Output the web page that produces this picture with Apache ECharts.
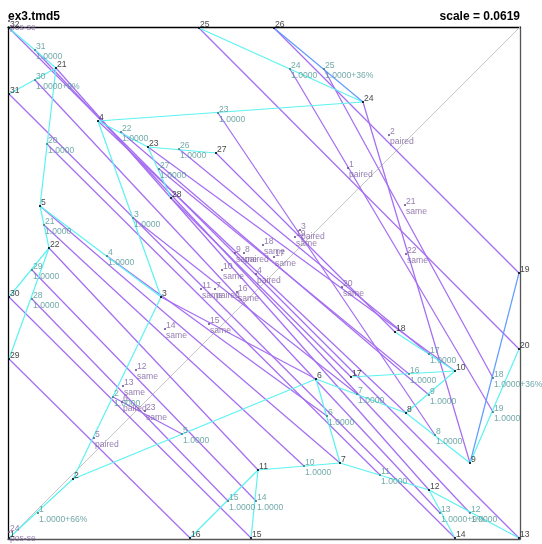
<!DOCTYPE html>
<html><head><meta charset="utf-8">
<script src="https://cdn.jsdelivr.net/npm/echarts@6/dist/echarts.min.js"></script>
<style>html,body{margin:0;padding:0;background:#fff}#c{width:542px;height:544px}</style>
</head><body><div id="c"></div>
<script>
// plot units: square 0..512 on both axes
const AX_MIN = 0, AX_MAX = 512;

// tree nodes 1..32 (black)
const nodeX = [1,65,153,90,32,308,332,398,462,447,250,421,511,447,243,182,343,387,511,511,48,41,140,355,191,266,208,163,1,1,1,1];
const nodeY = [1,60,242,418,333,160,76,126,76,168,69,49,1,1,1,1,162,207,266,190,471,291,392,437,511,511,386,341,180,242,445,511];

// tree edges 1..31 (teal labels), endpoints as node numbers
const edgeFrom = [2,3,3,5,2,6,6,8,8,7,7,12,12,11,11,10,10,9,9,21,5,4,4,24,24,23,23,22,22,21,21];
const edgeTo   = [1,2,4,3,6,7,8,9,10,11,12,13,14,15,16,17,18,19,20,5,22,23,24,25,26,27,28,29,30,31,32];
const edgeX = [30,105,125,99,174,319,349,427,421,296,372,462,432,248,220,401,421,485,485,39,36,113,210,282,316,171,151,24,24,27,27];
const edgeY = [26,142,321,283,105,123,145,104,144,73,64,26,26,38,38,165,185,161,127,395,314,407,426,470,470,390,370,240,269,459,489];
const edgeSupport = ['1.0000+66%','1.0000','1.0000','1.0000','1.0000','1.0000','1.0000','1.0000','1.0000','1.0000',
  '1.0000','1.0000','1.0000+9%','1.0000','1.0000','1.0000','1.0000','1.0000+36%','1.0000','1.0000',
  '1.0000','1.0000','1.0000','1.0000','1.0000+36%','1.0000','1.0000','1.0000','1.0000','1.0000+9%','1.0000'];

// mirror-matched pairs (purple links)
const nodePairs = [[32,13],[31,14],[30,15],[29,16],[28,17],[27,18],[26,19],[25,20],[21,12],[22,11],[5,7],[24,9],[23,10],[4,8],[3,6]];
const edgePairs = [[31,12],[30,13],[20,11],[29,14],[28,15],[21,10],[4,6],[3,7],[23,8],[24,19],[25,18],[22,9],[26,17],[27,16],[2,5]];

// purple match labels
const tmNum = ['1','2','3','4','5','6','7','8','9','10','11','12','13','14','15','16','17','18','19','20','21','22','23','24',''];
const tmX = [340,381,292,248,86,114,207,236,227,214,193,128,115,157,201,229,266,255,287,334,397,398,137,1,1];
const tmY = [371,404,309,265,101,137,250,286,286,269,250,169,153,210,215,247,282,294,302,252,334,285,128,7,518];
const tmTag = ['paired','paired','paired','paired','paired','paired','paired','paired','same','same','same','same','same','same','same','same','same','same','same','same','same','same','same','pos-se','pos-se'];

const FONT = 'Liberation Sans, Arial, sans-serif';
const PURPLE = '#a56ef2', CYAN = '#5cf2f2', BLUE = '#5f9cff';
const nodePt = n => [nodeX[n-1], nodeY[n-1]];
const edgePt = e => [edgeX[e-1], edgeY[e-1]];

const segSeries = (pts, color, z, w) => ({
  type:'line', silent:true, symbol:'none', showSymbol:false, animation:false,
  data:pts, z:z, color:color,
  lineStyle:{color:color, width:w, opacity:1}, itemStyle:{color:color},
  emphasis:{disabled:true}
});

const purpleSeries = nodePairs.map(p => [nodePt(p[0]), nodePt(p[1])])
  .concat(edgePairs.map(p => [edgePt(p[0]), edgePt(p[1])]))
  .map(c => segSeries(c, PURPLE, 2, 1.25));
const treeSeries = edgeFrom.map((f,i) =>
  segSeries([nodePt(f), nodePt(edgeTo[i])], edgeSupport[i].indexOf('36%')>=0 ? BLUE : CYAN, 3, 1.2));

const lbl = (color) => ({show:true, position:[2,-7], align:'left', verticalAlign:'top',
  fontSize:8.6, lineHeight:10, fontFamily:FONT, color:color});

const chart = echarts.init(document.getElementById('c'), null, {renderer:'canvas'});
const axisBase = {type:'value', min:AX_MIN, max:AX_MAX, axisTick:{show:false}, axisLabel:{show:false}, splitLine:{show:false}};
chart.setOption({
  animation:false,
  backgroundColor:'#fff',
  grid:{left:8, top:27, width:512, height:512, containLabel:false},
  xAxis:[
    Object.assign({}, axisBase, {position:'bottom', axisLine:{show:true, onZero:false, lineStyle:{color:'#555', width:1.3}}}),
    Object.assign({}, axisBase, {position:'top', axisLine:{show:true, onZero:false, lineStyle:{color:'#000', width:1.3}}})
  ],
  yAxis:[
    Object.assign({}, axisBase, {position:'left', axisLine:{show:true, onZero:false, lineStyle:{color:'#000', width:1.3}}}),
    Object.assign({}, axisBase, {position:'right', axisLine:{show:true, onZero:false, lineStyle:{color:'#555', width:1.3}}})
  ],
  graphic:[
    {type:'text', left:8, top:11, style:{text:'ex3.tmd5', font:'bold 12px '+FONT, fill:'#000'}},
    {type:'text', right:22, top:11, style:{text:'scale = 0.0619', font:'bold 12px '+FONT, fill:'#000'}}
  ],
  series:[
    segSeries([[AX_MIN,AX_MIN],[AX_MAX,AX_MAX]], '#c4c4c4', 1, 1)
  ].concat(purpleSeries, treeSeries, [
    {type:'scatter', clip:false, symbol:'rect', symbolSize:2, z:5,
     itemStyle:{color:'#6b4c8c'},
     data: tmX.map((x,i)=>({value:[x,tmY[i]], name:tmNum[i]+'\n'+tmTag[i]})),
     label:Object.assign(lbl('#7a5c9c'), {formatter:p=>p.name})},
    {type:'scatter', clip:false, symbol:'rect', symbolSize:2, z:6,
     itemStyle:{color:'#3f7f7f'},
     data: edgeX.map((x,i)=>({value:[x,edgeY[i]], name:(i+1)+'\n'+edgeSupport[i]})),
     label:Object.assign(lbl('#4f9494'), {formatter:p=>p.name})},
    {type:'scatter', clip:false, symbol:'rect', symbolSize:2, z:7,
     itemStyle:{color:'#000'},
     data: nodeX.map((x,i)=>({value:[x,nodeY[i]], name:String(i+1)})),
     label:Object.assign(lbl('#111'), {formatter:p=>p.name})}
  ])
});
</script></body></html>
